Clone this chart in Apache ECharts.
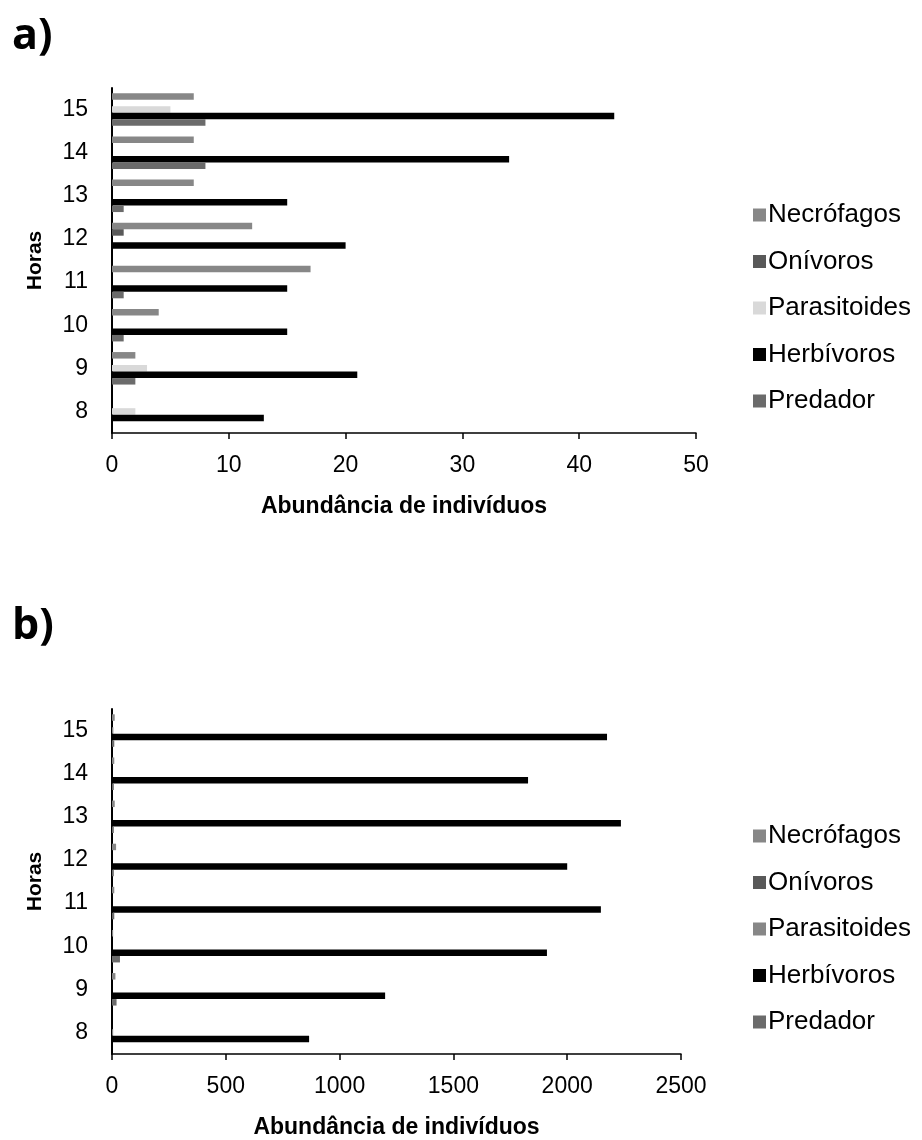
<!DOCTYPE html>
<html><head><meta charset="utf-8">
<script src="https://cdn.jsdelivr.net/npm/echarts@6/dist/echarts.min.js"></script>
<style>html,body{margin:0;padding:0;background:#fff}#c{width:922px;height:1140px}</style>
</head><body><div id="c"></div>
<script>
const horas = ['8','9','10','11','12','13','14','15'];
const seriesNames = ['Necrófagos','Onívoros','Parasitoides','Herbívoros','Predador'];
// Chart a (values for hours 8..15)
const aNecrofagos   = [0, 2, 4, 17, 12, 7, 7, 7];
const aOnivoros     = [0, 0, 0, 0, 1, 0, 0, 0];
const aParasitoides = [2, 3, 0, 0, 0, 0, 0, 5];
const aHerbivoros   = [13, 21, 15, 15, 20, 15, 34, 43];
const aPredador     = [0, 2, 1, 1, 0, 1, 8, 8];
// Chart b
const bNecrofagos   = [0, 15, 5, 10, 18, 12, 10, 12];
const bOnivoros     = [0, 0, 0, 0, 0, 0, 0, 0];
const bParasitoides = [5, 0, 0, 0, 0, 0, 0, 6];
const bHerbivoros   = [866, 1200, 1911, 2148, 2000, 2236, 1828, 2175];
const bPredador     = [0, 20, 35, 10, 8, 8, 8, 10];
const aTicks = {min:0, max:50, interval:10};
const bTicks = {min:0, max:2500, interval:500};

const colorsA = {'Necrófagos':'#878787','Onívoros':'#595959','Parasitoides':'#d9d9d9','Herbívoros':'#000000','Predador':'#6b6b6b'};
const colorsB = {'Necrófagos':'#878787','Onívoros':'#595959','Parasitoides':'#878787','Herbívoros':'#000000','Predador':'#6b6b6b'};
const dataA = {'Necrófagos':aNecrofagos,'Onívoros':aOnivoros,'Parasitoides':aParasitoides,'Herbívoros':aHerbivoros,'Predador':aPredador};
const dataB = {'Necrófagos':bNecrofagos,'Onívoros':bOnivoros,'Parasitoides':bParasitoides,'Herbívoros':bHerbivoros,'Predador':bPredador};

const FONT = 'Arial, "Liberation Sans", sans-serif';
const chart = echarts.init(document.getElementById('c'), null, {renderer:'canvas'});

function xAxis(idx, t){
  return {type:'value', gridIndex:idx, min:t.min, max:t.max, interval:t.interval,
    name:'Abundância de indivíduos', nameLocation:'middle', nameGap:62,
    nameTextStyle:{fontFamily:FONT, fontSize:23, fontWeight:'bold', color:'#000'},
    axisLine:{show:true, lineStyle:{color:'#000', width:1.5}},
    axisTick:{show:true, length:6, lineStyle:{color:'#000', width:1.5}},
    axisLabel:{fontFamily:FONT, fontSize:23, color:'#000', margin:21, formatter:v=>String(v)},
    splitLine:{show:false}};
}
function yAxis(idx){
  return {type:'category', gridIndex:idx, data:horas,
    name:'Horas', nameLocation:'middle', nameGap:66, nameRotate:90,
    nameTextStyle:{fontFamily:FONT, fontSize:21, fontWeight:'bold', color:'#000'},
    axisLine:{show:true, lineStyle:{color:'#000', width:2}},
    axisTick:{show:false},
    axisLabel:{fontFamily:FONT, fontSize:23, color:'#000', margin:24}};
}
const series = [];
[[0,dataA,colorsA],[1,dataB,colorsB]].forEach(([idx,d,c])=>{
  seriesNames.forEach(n=>{
    series.push({type:'bar', name:n, xAxisIndex:idx, yAxisIndex:idx, data:d[n],
      barWidth:6.5, barGap:'0%', barCategoryGap:'25%',
      itemStyle:{color:c[n]}, legendHoverLink:false, silent:true});
  });
});
function legend(top, colors){
  return {orient:'vertical', left:753, top:top, padding:0, itemWidth:13, itemHeight:13, itemGap:20.5,
    icon:'rect', selectedMode:false,
    data:seriesNames.map(n=>({name:n, itemStyle:{color:colors[n]}})),
    textStyle:{fontFamily:FONT, fontSize:26, color:'#000', padding:[0,0,0,-3]}};
}
chart.setOption({
  animation:false,
  textStyle:{fontFamily:FONT},
  title:[
    {text:'a)', left:7, top:10, textStyle:{fontFamily:'Open Sans', fontWeight:'bold', fontSize:43, color:'#000'}},
    {text:'b)', left:7, top:600, textStyle:{fontFamily:'Open Sans', fontWeight:'bold', fontSize:43, color:'#000'}}
  ],
  grid:[
    {left:112, top:88, width:584, height:345},
    {left:112, top:709, width:569, height:345}
  ],
  xAxis:[xAxis(0,aTicks), xAxis(1,bTicks)],
  yAxis:[yAxis(0), yAxis(1)],
  legend:[legend(202, colorsA), legend(823, colorsB)],
  series:series
});
</script></body></html>
